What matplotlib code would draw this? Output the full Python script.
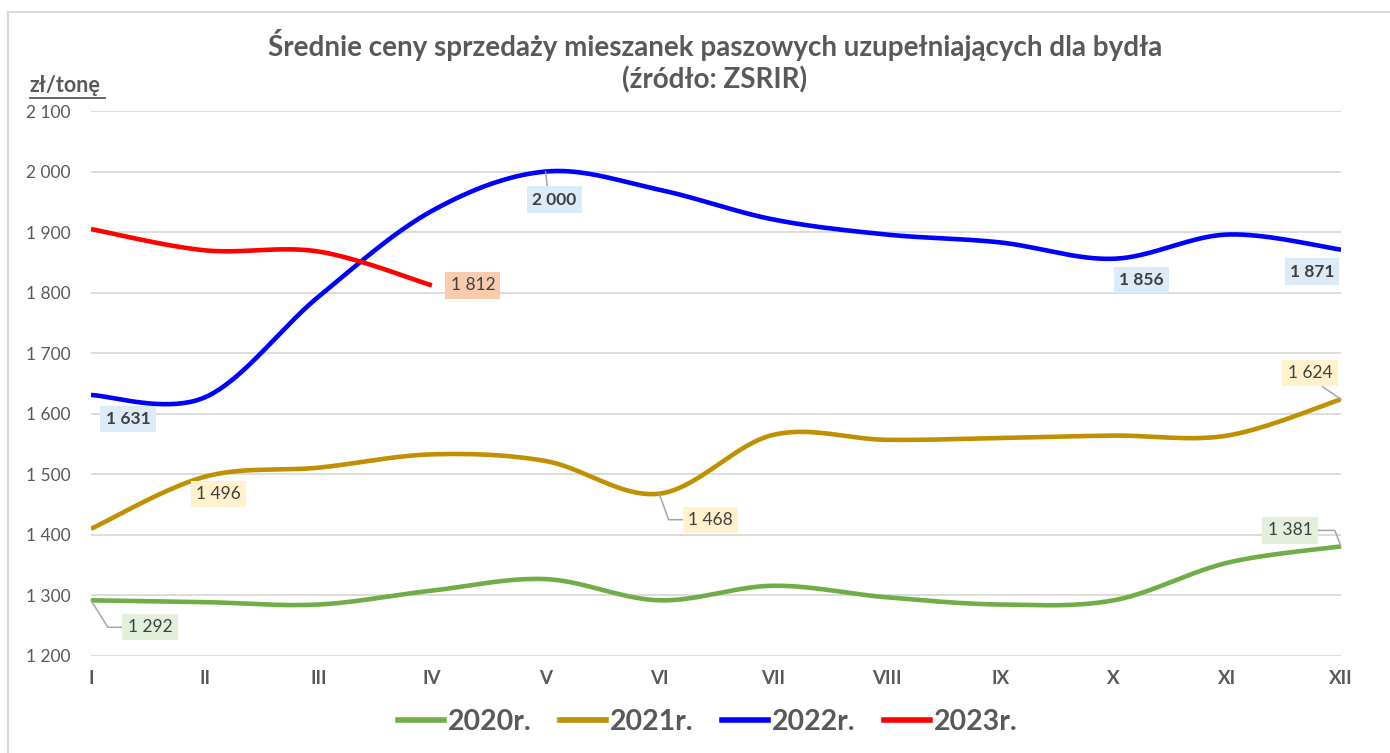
import numpy as np
import matplotlib
matplotlib.use('Agg')
import matplotlib.pyplot as plt
from matplotlib.lines import Line2D
from matplotlib.ticker import FuncFormatter

plt.rcParams['font.family'] = ['Lato', 'DejaVu Sans']

# data
months = ['I', 'II', 'III', 'IV', 'V', 'VI', 'VII', 'VIII', 'IX', 'X', 'XI', 'XII']
y2020 = [1292, 1289, 1285, 1308, 1327, 1292, 1316, 1297, 1285, 1292, 1354, 1381]
y2021 = [1410, 1496, 1511, 1533, 1522, 1468, 1565, 1557, 1560, 1564, 1564, 1624]
y2022 = [1631, 1627, 1793, 1935, 2000, 1970, 1921, 1896, 1883, 1856, 1896, 1871]
y2023 = [1905, 1870, 1868, 1812]
series_names = ['2020r.', '2021r.', '2022r.', '2023r.']

colors = ['#70AD47', '#BF9000', '#0000FF', '#FF0000']
box_colors = ['#E2EFDA', '#FFF2CC', '#DDEBF7', '#F8CBAD']
grey = '#595959'


def fmt(v):
    return f'{int(v):,}'.replace(',', ' ')


def smooth(ys, n=40):
    # Excel-like smoothed line: cubic bezier with catmull-rom control points
    xs = np.arange(len(ys), dtype=float)
    ys = np.asarray(ys, dtype=float)
    px, py = [], []
    t = np.linspace(0, 1, n)
    for i in range(len(ys) - 1):
        i0 = max(i - 1, 0)
        i3 = min(i + 2, len(ys) - 1)
        for arr, out in ((xs, px), (ys, py)):
            p0, p1, p2, p3 = arr[i], arr[i] + (arr[i + 1] - arr[i0]) / 6, \
                arr[i + 1] - (arr[i3] - arr[i]) / 6, arr[i + 1]
            b = ((1 - t) ** 3 * p0 + 3 * (1 - t) ** 2 * t * p1
                 + 3 * (1 - t) * t ** 2 * p2 + t ** 3 * p3)
            out.extend(b if i == 0 else b[1:])
    return np.array(px), np.array(py)


fig = plt.figure(figsize=(13.9, 7.53), dpi=100)
ax = fig.add_axes([91 / 1390, 1 - 656 / 753, 1250 / 1390, 545 / 753])

all_series = [y2020, y2021, y2022, y2023]
for ys, c in zip(all_series, colors):
    sx, sy = smooth(ys)
    ax.plot(sx, sy, color=c, lw=3.3, solid_capstyle='butt', zorder=3)

ax.set_xlim(0, len(months) - 1)
ax.set_ylim(1200, 2100)
ax.set_yticks(np.arange(1200, 2101, 100))
ax.yaxis.set_major_formatter(FuncFormatter(lambda v, p: fmt(v)))
ax.set_xticks(range(len(months)))
ax.set_xticklabels(months, fontsize=13.5, fontweight='bold', color=grey)
for lab in ax.get_yticklabels():
    lab.set_fontsize(12.5)
    lab.set_color(grey)
ax.tick_params(length=0)
ax.tick_params(axis='y', pad=15)
ax.tick_params(axis='x', pad=10)
ax.grid(axis='y', color='#D9D9D9', lw=1.3)
ax.set_axisbelow(True)
for s in ax.spines.values():
    s.set_visible(False)

# data labels: (series, month index, offset px, bold, relpos, connection)
labels = [
    (0, 0, (59, -27), False, (0, 0.5), 'angle,angleA=0,angleB=-58,rad=0'),
    (0, 11, (-51, 16), False, (1, 0.5), 'angle,angleA=0,angleB=111,rad=0'),
    (1, 1, (14, -17), False, None, None),
    (1, 5, (51, -26), False, (0, 0.5), 'angle,angleA=0,angleB=-70,rad=0'),
    (1, 11, (-31, 26), False, (0.6, 0), 'arc3'),
    (2, 0, (37, -24), True, None, None),
    (2, 4, (9, -28), True, (0.35, 1), 'arc3'),
    (2, 9, (28, -21), True, None, None),
    (2, 11, (-29, -22), True, None, None),
    (3, 3, (41, 0), False, None, None),
]
for si, mi, off, bold, relpos, conn in labels:
    v = all_series[si][mi]
    kw = {}
    if conn is not None:
        kw['arrowprops'] = dict(arrowstyle='-', color='#A6A6A6', lw=1.1,
                                shrinkA=0, shrinkB=0, relpos=relpos,
                                connectionstyle=conn)
    ax.annotate(fmt(v), (mi, v), xytext=off, textcoords='offset pixels',
                ha='center', va='center', fontsize=12.5,
                fontweight='bold' if bold else 'normal', color='#404040',
                bbox=dict(boxstyle='square,pad=0.3', fc=box_colors[si],
                          ec='none'),
                zorder=5, annotation_clip=False, **kw)

# title and unit
fig.text(715 / 1390, 1 - 45 / 753,
         'Średnie ceny sprzedaży mieszanek paszowych uzupełniających dla bydła',
         ha='center', va='center', fontsize=20, fontweight='bold', color=grey)
fig.text(715 / 1390, 1 - 80 / 753, '(źródło: ZSRIR)',
         ha='center', va='center', fontsize=20, fontweight='bold', color=grey)
fig.text(30 / 1390, 1 - 85 / 753, 'zł/tonę', ha='left', va='center',
         fontsize=15.5, fontweight='bold', color=grey)
fig.add_artist(Line2D([30 / 1390, 105 / 1390], [1 - 98 / 753] * 2,
                      color=grey, lw=1.3))

# chart border (top and left visible)
fig.add_artist(Line2D([8 / 1390, 1], [1 - 12 / 753] * 2, color='#D9D9D9', lw=1.5))
fig.add_artist(Line2D([8 / 1390] * 2, [0, 1 - 12 / 753], color='#D9D9D9', lw=1.5))

handles = [Line2D([], [], color=c, lw=4) for c in colors]
fig.legend(handles, series_names, loc='center', ncol=4,
           bbox_to_anchor=(708 / 1390, 1 - 722 / 753), frameon=False,
           handlelength=1.6, handletextpad=0.15, columnspacing=1.0,
           prop={'weight': 'bold', 'size': 20.5}, labelcolor=grey)

fig.savefig('out.png', dpi=100)
